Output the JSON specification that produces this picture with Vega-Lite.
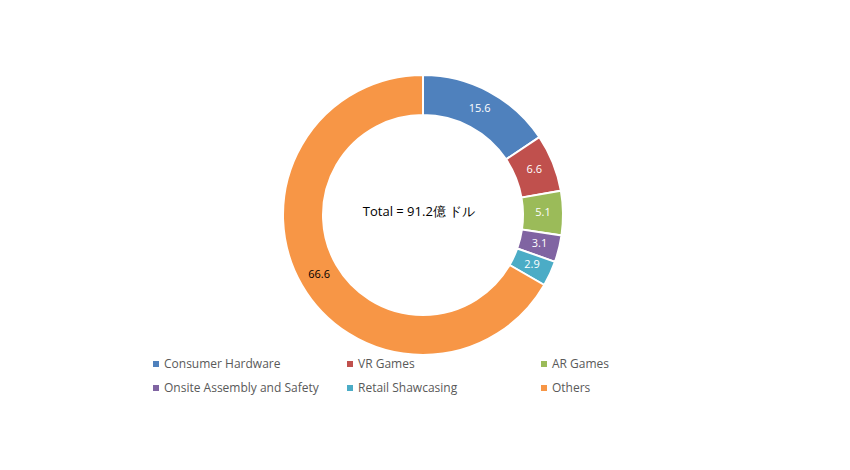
{
  "$schema": "https://vega.github.io/schema/vega-lite/v6.json",
  "width": 846,
  "height": 430,
  "padding": 0,
  "autosize": {"type": "none"},
  "background": "white",
  "config": {"view": {"stroke": null}, "font": "Open Sans"},
  "data": {"values": [
    {"category": "Consumer Hardware", "value": 15.6, "idx": 1},
    {"category": "VR Games", "value": 6.6, "idx": 2},
    {"category": "AR Games", "value": 5.1, "idx": 3},
    {"category": "Onsite Assembly and Safety", "value": 3.1, "idx": 4},
    {"category": "Retail Shawcasing", "value": 2.9, "idx": 5},
    {"category": "Others", "value": 66.6, "idx": 6}
  ]},
  "encoding": {
    "theta": {"field": "value", "type": "quantitative", "stack": true},
    "order": {"field": "idx", "type": "quantitative"}
  },
  "layer": [
    {
      "mark": {"type": "arc", "outerRadius": 140, "innerRadius": 100, "stroke": "white", "strokeWidth": 2},
      "encoding": {
        "color": {
          "field": "category", "type": "nominal",
          "sort": ["Consumer Hardware", "VR Games", "AR Games", "Onsite Assembly and Safety", "Retail Shawcasing", "Others"],
          "scale": {
            "domain": ["Consumer Hardware", "VR Games", "AR Games", "Onsite Assembly and Safety", "Retail Shawcasing", "Others"],
            "range": ["#4F81BD", "#C0504D", "#9BBB59", "#8064A2", "#4BACC6", "#F79646"]
          },
          "legend": {
            "title": null,
            "orient": "none",
            "legendX": 150,
            "legendY": 358,
            "direction": "horizontal",
            "columns": 3,
            "gridAlign": "all",
            "columnPadding": 25,
            "rowPadding": 12,
            "padding": 0,
            "symbolType": "square",
            "symbolSize": 36,
            "symbolStrokeWidth": 0,
            "symbolOffset": 0,
            "labelOffset": 2,
            "labelFontSize": 12,
            "labelColor": "#595959",
            "labelFont": "Open Sans",
            "labelLimit": 300
          }
        }
      }
    },
    {
      "mark": {"type": "text", "radius": 120, "fontSize": 11, "font": "Open Sans"},
      "encoding": {
        "text": {"field": "value", "type": "quantitative", "format": ".1f"},
        "color": {"condition": {"test": "datum.category === 'Others'", "value": "black"}, "value": "white"}
      }
    },
    {
      "data": {"values": [{"label": "Total = 91.2億 ドル"}]},
      "mark": {"type": "text", "fontSize": 13, "font": "Open Sans", "color": "black", "dx": -4, "dy": -3},
      "encoding": {
        "text": {"field": "label", "type": "nominal"},
        "theta": null,
        "order": null
      }
    }
  ]
}
